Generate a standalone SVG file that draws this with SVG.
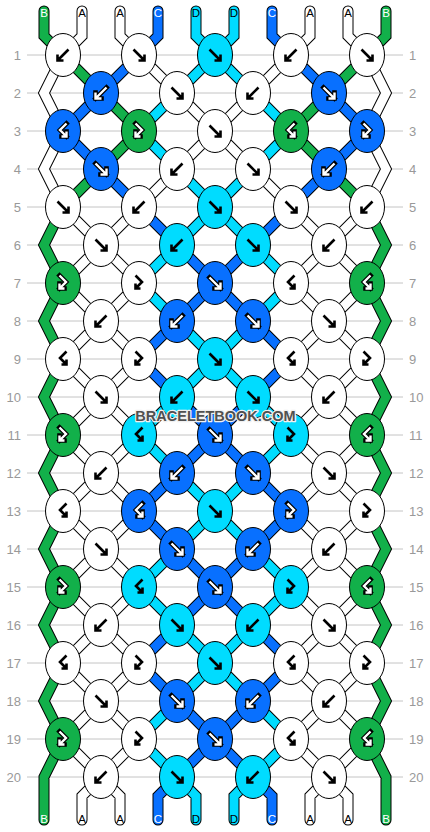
<svg xmlns="http://www.w3.org/2000/svg" xmlns:xlink="http://www.w3.org/1999/xlink" width="430" height="832" viewBox="0 0 430 832">
<style>
.grid line{stroke:#c4c4c4;stroke-width:1}
.rn{font-family:"Liberation Sans",Arial,sans-serif;font-size:13px;fill:#999}
.rl{text-anchor:end}
.o{fill:none;stroke:#000;stroke-width:11;stroke-linecap:round;stroke-linejoin:miter}
.s{fill:none;stroke-width:9;stroke-linecap:round;stroke-linejoin:miter}
.sg{stroke:#12b04a}.sb{stroke:#0870ff}.sd{stroke:#00dcff}.sw{stroke:#fff}
ellipse{stroke:#000;stroke-width:1}
.w{fill:#fff}.g{fill:#12b04a}.c{fill:#0870ff}.d{fill:#00dcff}
.ab{stroke:#000;stroke-width:2.6}
.ao{stroke:#000;stroke-width:4.6;stroke-linecap:square}
.aw{stroke:#fff;stroke-width:2.4}
.lt{font-family:"Liberation Sans",Arial,sans-serif;font-size:11.5px;text-anchor:middle}
.lw{fill:#fff}.lk{fill:#000}
.wm{font-family:"Liberation Sans",Arial,sans-serif;font-weight:bold;font-size:14.5px;text-anchor:middle;fill:#505050;stroke:#f0f0f0;stroke-width:2.5;paint-order:stroke;stroke-linejoin:round}
</style>
<defs>
<path id="F" fill="none" d="M-5.5,-5.5 L5.5,5.5 M5.5,-0.5 L5.5,5.5 L-0.5,5.5"/>
<path id="B" fill="none" d="M5.5,-5.5 L-5.5,5.5 M-5.5,-0.5 L-5.5,5.5 L0.5,5.5"/>
<path id="FB" fill="none" d="M-3.5,-7.5 L3,-1 L-3.5,5.5 M-3.5,0.5 L-3.5,5.5 L1.5,5.5"/>
<path id="BF" fill="none" d="M3.5,-7.5 L-3,-1 L3.5,5.5 M3.5,0.5 L3.5,5.5 L-1.5,5.5"/>
<path id="pg" d="M44,11 L44,36 L63,55 M63,207 L44,245 L63,283 L44,321 L63,359 L44,397 L63,435 L44,473 L63,511 L44,549 L63,587 L44,625 L63,663 L44,701 L63,739 L44,777 L44,820 M386,11 L386,36 L367,55 M367,207 L386,245 L367,283 L386,321 L367,359 L386,397 L367,435 L386,473 L367,511 L386,549 L367,587 L386,625 L367,663 L386,701 L367,739 L386,777 L386,820 M63,55 L101,93 M101,169 L63,207 M101,93 L139,131 L101,169 M329,93 L291,131 L329,169 M367,55 L329,93 M329,169 L367,207"/>
<path id="pb" d="M101,93 L63,131 L101,169 M139,55 L101,93 M101,169 L139,207 M291,55 L329,93 M329,169 L291,207 M329,93 L367,131 L329,169 M158,11 L158,36 L139,55 M139,207 L177,245 M177,321 L139,359 L177,397 M177,473 L139,511 L177,549 M177,625 L139,663 L177,701 M177,777 L158,796 L158,820 M272,11 L272,36 L291,55 M291,207 L253,245 M253,321 L291,359 L253,397 M253,473 L291,511 L253,549 M253,625 L291,663 L253,701 M253,777 L272,796 L272,820 M177,245 L215,283 L177,321 M177,397 L215,435 L177,473 M177,549 L215,587 L177,625 M177,701 L215,739 L177,777 M253,245 L215,283 L253,321 M253,397 L215,435 L253,473 M253,549 L215,587 L253,625 M253,701 L215,739 L253,777"/>
<path id="pd" d="M177,93 L139,131 L177,169 M177,245 L139,283 L177,321 M177,397 L139,435 L177,473 M177,549 L139,587 L177,625 M177,701 L139,739 L177,777 M253,93 L291,131 L253,169 M253,245 L291,283 L253,321 M253,397 L291,435 L253,473 M253,549 L291,587 L253,625 M253,701 L291,739 L253,777 M196,11 L196,36 L215,55 L177,93 M177,169 L215,207 L177,245 M177,321 L215,359 L177,397 M177,473 L215,511 L177,549 M177,625 L215,663 L177,701 M177,777 L196,796 L196,820 M234,11 L234,36 L215,55 L253,93 M253,169 L215,207 L253,245 M253,321 L215,359 L253,397 M253,473 L215,511 L253,549 M253,625 L215,663 L253,701 M253,777 L234,796 L234,820"/>
<path id="pw" d="M63,55 L44,93 L63,131 L44,169 L63,207 M367,55 L386,93 L367,131 L386,169 L367,207 M82,11 L82,36 L63,55 M63,207 L101,245 L63,283 L101,321 L63,359 L101,397 L63,435 L101,473 L63,511 L101,549 L63,587 L101,625 L63,663 L101,701 L63,739 L101,777 L82,796 L82,820 M120,11 L120,36 L139,55 M139,207 L101,245 L139,283 L101,321 L139,359 L101,397 L139,435 L101,473 L139,511 L101,549 L139,587 L101,625 L139,663 L101,701 L139,739 L101,777 L120,796 L120,820 M310,11 L310,36 L291,55 M291,207 L329,245 L291,283 L329,321 L291,359 L329,397 L291,435 L329,473 L291,511 L329,549 L291,587 L329,625 L291,663 L329,701 L291,739 L329,777 L310,796 L310,820 M348,11 L348,36 L367,55 M367,207 L329,245 L367,283 L329,321 L367,359 L329,397 L367,435 L329,473 L367,511 L329,549 L367,587 L329,625 L367,663 L329,701 L367,739 L329,777 L348,796 L348,820 M139,55 L177,93 M177,169 L139,207 M291,55 L253,93 M253,169 L291,207 M177,93 L215,131 L177,169 M253,93 L215,131 L253,169"/>
</defs>
<rect width="430" height="832" fill="#fff"/>
<g class="grid">
<line x1="27" y1="55" x2="403" y2="55"/><line x1="27" y1="93" x2="403" y2="93"/><line x1="27" y1="131" x2="403" y2="131"/><line x1="27" y1="169" x2="403" y2="169"/><line x1="27" y1="207" x2="403" y2="207"/><line x1="27" y1="245" x2="403" y2="245"/><line x1="27" y1="283" x2="403" y2="283"/><line x1="27" y1="321" x2="403" y2="321"/><line x1="27" y1="359" x2="403" y2="359"/><line x1="27" y1="397" x2="403" y2="397"/><line x1="27" y1="435" x2="403" y2="435"/><line x1="27" y1="473" x2="403" y2="473"/><line x1="27" y1="511" x2="403" y2="511"/><line x1="27" y1="549" x2="403" y2="549"/><line x1="27" y1="587" x2="403" y2="587"/><line x1="27" y1="625" x2="403" y2="625"/><line x1="27" y1="663" x2="403" y2="663"/><line x1="27" y1="701" x2="403" y2="701"/><line x1="27" y1="739" x2="403" y2="739"/><line x1="27" y1="777" x2="403" y2="777"/>
</g>
<g class="rn">
<text class="rl" x="21" y="59.5">1</text><text class="rl" x="21" y="97.5">2</text><text class="rl" x="21" y="135.5">3</text><text class="rl" x="21" y="173.5">4</text><text class="rl" x="21" y="211.5">5</text><text class="rl" x="21" y="249.5">6</text><text class="rl" x="21" y="287.5">7</text><text class="rl" x="21" y="325.5">8</text><text class="rl" x="21" y="363.5">9</text><text class="rl" x="21" y="401.5">10</text><text class="rl" x="21" y="439.5">11</text><text class="rl" x="21" y="477.5">12</text><text class="rl" x="21" y="515.5">13</text><text class="rl" x="21" y="553.5">14</text><text class="rl" x="21" y="591.5">15</text><text class="rl" x="21" y="629.5">16</text><text class="rl" x="21" y="667.5">17</text><text class="rl" x="21" y="705.5">18</text><text class="rl" x="21" y="743.5">19</text><text class="rl" x="21" y="781.5">20</text>
<text x="409" y="59.5">1</text><text x="409" y="97.5">2</text><text x="409" y="135.5">3</text><text x="409" y="173.5">4</text><text x="409" y="211.5">5</text><text x="409" y="249.5">6</text><text x="409" y="287.5">7</text><text x="409" y="325.5">8</text><text x="409" y="363.5">9</text><text x="409" y="401.5">10</text><text x="409" y="439.5">11</text><text x="409" y="477.5">12</text><text x="409" y="515.5">13</text><text x="409" y="553.5">14</text><text x="409" y="591.5">15</text><text x="409" y="629.5">16</text><text x="409" y="667.5">17</text><text x="409" y="705.5">18</text><text x="409" y="743.5">19</text><text x="409" y="781.5">20</text>
</g>
<g id="connectors">
<use href="#pg" class="o"/><use href="#pb" class="o"/><use href="#pd" class="o"/><use href="#pw" class="o"/>
<use href="#pg" class="s sg"/><use href="#pb" class="s sb"/><use href="#pd" class="s sd"/><use href="#pw" class="s sw"/>
</g>
<g id="labels" class="lt">
<text class="lw" x="44" y="17">B</text><text class="lk" x="82" y="17">A</text><text class="lk" x="120" y="17">A</text><text class="lw" x="158" y="17">C</text><text class="lk" x="196" y="17">D</text><text class="lk" x="234" y="17">D</text><text class="lw" x="272" y="17">C</text><text class="lk" x="310" y="17">A</text><text class="lk" x="348" y="17">A</text><text class="lw" x="386" y="17">B</text>
<text class="lw" x="44" y="823">B</text><text class="lk" x="82" y="823">A</text><text class="lk" x="120" y="823">A</text><text class="lw" x="158" y="823">C</text><text class="lk" x="196" y="823">D</text><text class="lk" x="234" y="823">D</text><text class="lw" x="272" y="823">C</text><text class="lk" x="310" y="823">A</text><text class="lk" x="348" y="823">A</text><text class="lw" x="386" y="823">B</text>
</g>
<g id="knots">
<g id="k1-1"><ellipse cx="63" cy="55" rx="17.5" ry="21.5" class="w"/><use href="#B" x="63" y="55" class="ab"/></g>
<g id="k1-2"><ellipse cx="139" cy="55" rx="17.5" ry="21.5" class="w"/><use href="#F" x="139" y="55" class="ab"/></g>
<g id="k1-3"><ellipse cx="215" cy="55" rx="17.5" ry="21.5" class="d"/><use href="#F" x="215" y="55" class="ab"/></g>
<g id="k1-4"><ellipse cx="291" cy="55" rx="17.5" ry="21.5" class="w"/><use href="#B" x="291" y="55" class="ab"/></g>
<g id="k1-5"><ellipse cx="367" cy="55" rx="17.5" ry="21.5" class="w"/><use href="#F" x="367" y="55" class="ab"/></g>
<g id="k2-1"><ellipse cx="101" cy="93" rx="17.5" ry="21.5" class="c"/><use href="#B" x="101" y="93" class="ao"/><use href="#B" x="101" y="93" class="aw"/></g>
<g id="k2-2"><ellipse cx="177" cy="93" rx="17.5" ry="21.5" class="w"/><use href="#F" x="177" y="93" class="ab"/></g>
<g id="k2-3"><ellipse cx="253" cy="93" rx="17.5" ry="21.5" class="w"/><use href="#B" x="253" y="93" class="ab"/></g>
<g id="k2-4"><ellipse cx="329" cy="93" rx="17.5" ry="21.5" class="c"/><use href="#F" x="329" y="93" class="ao"/><use href="#F" x="329" y="93" class="aw"/></g>
<g id="k3-1"><ellipse cx="63" cy="131" rx="17.5" ry="21.5" class="c"/><use href="#BF" x="63" y="131" class="ao"/><use href="#BF" x="63" y="131" class="aw"/></g>
<g id="k3-2"><ellipse cx="139" cy="131" rx="17.5" ry="21.5" class="g"/><use href="#FB" x="139" y="131" class="ao"/><use href="#FB" x="139" y="131" class="aw"/></g>
<g id="k3-3"><ellipse cx="215" cy="131" rx="17.5" ry="21.5" class="w"/><use href="#F" x="215" y="131" class="ab"/></g>
<g id="k3-4"><ellipse cx="291" cy="131" rx="17.5" ry="21.5" class="g"/><use href="#BF" x="291" y="131" class="ao"/><use href="#BF" x="291" y="131" class="aw"/></g>
<g id="k3-5"><ellipse cx="367" cy="131" rx="17.5" ry="21.5" class="c"/><use href="#FB" x="367" y="131" class="ao"/><use href="#FB" x="367" y="131" class="aw"/></g>
<g id="k4-1"><ellipse cx="101" cy="169" rx="17.5" ry="21.5" class="c"/><use href="#F" x="101" y="169" class="ao"/><use href="#F" x="101" y="169" class="aw"/></g>
<g id="k4-2"><ellipse cx="177" cy="169" rx="17.5" ry="21.5" class="w"/><use href="#B" x="177" y="169" class="ab"/></g>
<g id="k4-3"><ellipse cx="253" cy="169" rx="17.5" ry="21.5" class="w"/><use href="#F" x="253" y="169" class="ab"/></g>
<g id="k4-4"><ellipse cx="329" cy="169" rx="17.5" ry="21.5" class="c"/><use href="#B" x="329" y="169" class="ao"/><use href="#B" x="329" y="169" class="aw"/></g>
<g id="k5-1"><ellipse cx="63" cy="207" rx="17.5" ry="21.5" class="w"/><use href="#F" x="63" y="207" class="ab"/></g>
<g id="k5-2"><ellipse cx="139" cy="207" rx="17.5" ry="21.5" class="w"/><use href="#B" x="139" y="207" class="ab"/></g>
<g id="k5-3"><ellipse cx="215" cy="207" rx="17.5" ry="21.5" class="d"/><use href="#F" x="215" y="207" class="ab"/></g>
<g id="k5-4"><ellipse cx="291" cy="207" rx="17.5" ry="21.5" class="w"/><use href="#F" x="291" y="207" class="ab"/></g>
<g id="k5-5"><ellipse cx="367" cy="207" rx="17.5" ry="21.5" class="w"/><use href="#B" x="367" y="207" class="ab"/></g>
<g id="k6-1"><ellipse cx="101" cy="245" rx="17.5" ry="21.5" class="w"/><use href="#F" x="101" y="245" class="ab"/></g>
<g id="k6-2"><ellipse cx="177" cy="245" rx="17.5" ry="21.5" class="d"/><use href="#B" x="177" y="245" class="ab"/></g>
<g id="k6-3"><ellipse cx="253" cy="245" rx="17.5" ry="21.5" class="d"/><use href="#F" x="253" y="245" class="ab"/></g>
<g id="k6-4"><ellipse cx="329" cy="245" rx="17.5" ry="21.5" class="w"/><use href="#B" x="329" y="245" class="ab"/></g>
<g id="k7-1"><ellipse cx="63" cy="283" rx="17.5" ry="21.5" class="g"/><use href="#FB" x="63" y="283" class="ao"/><use href="#FB" x="63" y="283" class="aw"/></g>
<g id="k7-2"><ellipse cx="139" cy="283" rx="17.5" ry="21.5" class="w"/><use href="#FB" x="139" y="283" class="ab"/></g>
<g id="k7-3"><ellipse cx="215" cy="283" rx="17.5" ry="21.5" class="c"/><use href="#F" x="215" y="283" class="ao"/><use href="#F" x="215" y="283" class="aw"/></g>
<g id="k7-4"><ellipse cx="291" cy="283" rx="17.5" ry="21.5" class="w"/><use href="#BF" x="291" y="283" class="ab"/></g>
<g id="k7-5"><ellipse cx="367" cy="283" rx="17.5" ry="21.5" class="g"/><use href="#BF" x="367" y="283" class="ao"/><use href="#BF" x="367" y="283" class="aw"/></g>
<g id="k8-1"><ellipse cx="101" cy="321" rx="17.5" ry="21.5" class="w"/><use href="#B" x="101" y="321" class="ab"/></g>
<g id="k8-2"><ellipse cx="177" cy="321" rx="17.5" ry="21.5" class="c"/><use href="#B" x="177" y="321" class="ao"/><use href="#B" x="177" y="321" class="aw"/></g>
<g id="k8-3"><ellipse cx="253" cy="321" rx="17.5" ry="21.5" class="c"/><use href="#F" x="253" y="321" class="ao"/><use href="#F" x="253" y="321" class="aw"/></g>
<g id="k8-4"><ellipse cx="329" cy="321" rx="17.5" ry="21.5" class="w"/><use href="#F" x="329" y="321" class="ab"/></g>
<g id="k9-1"><ellipse cx="63" cy="359" rx="17.5" ry="21.5" class="w"/><use href="#BF" x="63" y="359" class="ab"/></g>
<g id="k9-2"><ellipse cx="139" cy="359" rx="17.5" ry="21.5" class="w"/><use href="#FB" x="139" y="359" class="ab"/></g>
<g id="k9-3"><ellipse cx="215" cy="359" rx="17.5" ry="21.5" class="d"/><use href="#F" x="215" y="359" class="ab"/></g>
<g id="k9-4"><ellipse cx="291" cy="359" rx="17.5" ry="21.5" class="w"/><use href="#BF" x="291" y="359" class="ab"/></g>
<g id="k9-5"><ellipse cx="367" cy="359" rx="17.5" ry="21.5" class="w"/><use href="#FB" x="367" y="359" class="ab"/></g>
<g id="k10-1"><ellipse cx="101" cy="397" rx="17.5" ry="21.5" class="w"/><use href="#F" x="101" y="397" class="ab"/></g>
<g id="k10-2"><ellipse cx="177" cy="397" rx="17.5" ry="21.5" class="d"/><use href="#B" x="177" y="397" class="ab"/></g>
<g id="k10-3"><ellipse cx="253" cy="397" rx="17.5" ry="21.5" class="d"/><use href="#F" x="253" y="397" class="ab"/></g>
<g id="k10-4"><ellipse cx="329" cy="397" rx="17.5" ry="21.5" class="w"/><use href="#B" x="329" y="397" class="ab"/></g>
<g id="k11-1"><ellipse cx="63" cy="435" rx="17.5" ry="21.5" class="g"/><use href="#FB" x="63" y="435" class="ao"/><use href="#FB" x="63" y="435" class="aw"/></g>
<g id="k11-2"><ellipse cx="139" cy="435" rx="17.5" ry="21.5" class="d"/><use href="#BF" x="139" y="435" class="ab"/></g>
<g id="k11-3"><ellipse cx="215" cy="435" rx="17.5" ry="21.5" class="c"/><use href="#F" x="215" y="435" class="ao"/><use href="#F" x="215" y="435" class="aw"/></g>
<g id="k11-4"><ellipse cx="291" cy="435" rx="17.5" ry="21.5" class="d"/><use href="#FB" x="291" y="435" class="ab"/></g>
<g id="k11-5"><ellipse cx="367" cy="435" rx="17.5" ry="21.5" class="g"/><use href="#BF" x="367" y="435" class="ao"/><use href="#BF" x="367" y="435" class="aw"/></g>
<g id="k12-1"><ellipse cx="101" cy="473" rx="17.5" ry="21.5" class="w"/><use href="#B" x="101" y="473" class="ab"/></g>
<g id="k12-2"><ellipse cx="177" cy="473" rx="17.5" ry="21.5" class="c"/><use href="#B" x="177" y="473" class="ao"/><use href="#B" x="177" y="473" class="aw"/></g>
<g id="k12-3"><ellipse cx="253" cy="473" rx="17.5" ry="21.5" class="c"/><use href="#F" x="253" y="473" class="ao"/><use href="#F" x="253" y="473" class="aw"/></g>
<g id="k12-4"><ellipse cx="329" cy="473" rx="17.5" ry="21.5" class="w"/><use href="#F" x="329" y="473" class="ab"/></g>
<g id="k13-1"><ellipse cx="63" cy="511" rx="17.5" ry="21.5" class="w"/><use href="#BF" x="63" y="511" class="ab"/></g>
<g id="k13-2"><ellipse cx="139" cy="511" rx="17.5" ry="21.5" class="c"/><use href="#BF" x="139" y="511" class="ao"/><use href="#BF" x="139" y="511" class="aw"/></g>
<g id="k13-3"><ellipse cx="215" cy="511" rx="17.5" ry="21.5" class="d"/><use href="#F" x="215" y="511" class="ab"/></g>
<g id="k13-4"><ellipse cx="291" cy="511" rx="17.5" ry="21.5" class="c"/><use href="#FB" x="291" y="511" class="ao"/><use href="#FB" x="291" y="511" class="aw"/></g>
<g id="k13-5"><ellipse cx="367" cy="511" rx="17.5" ry="21.5" class="w"/><use href="#FB" x="367" y="511" class="ab"/></g>
<g id="k14-1"><ellipse cx="101" cy="549" rx="17.5" ry="21.5" class="w"/><use href="#F" x="101" y="549" class="ab"/></g>
<g id="k14-2"><ellipse cx="177" cy="549" rx="17.5" ry="21.5" class="c"/><use href="#F" x="177" y="549" class="ao"/><use href="#F" x="177" y="549" class="aw"/></g>
<g id="k14-3"><ellipse cx="253" cy="549" rx="17.5" ry="21.5" class="c"/><use href="#B" x="253" y="549" class="ao"/><use href="#B" x="253" y="549" class="aw"/></g>
<g id="k14-4"><ellipse cx="329" cy="549" rx="17.5" ry="21.5" class="w"/><use href="#B" x="329" y="549" class="ab"/></g>
<g id="k15-1"><ellipse cx="63" cy="587" rx="17.5" ry="21.5" class="g"/><use href="#FB" x="63" y="587" class="ao"/><use href="#FB" x="63" y="587" class="aw"/></g>
<g id="k15-2"><ellipse cx="139" cy="587" rx="17.5" ry="21.5" class="d"/><use href="#BF" x="139" y="587" class="ab"/></g>
<g id="k15-3"><ellipse cx="215" cy="587" rx="17.5" ry="21.5" class="c"/><use href="#F" x="215" y="587" class="ao"/><use href="#F" x="215" y="587" class="aw"/></g>
<g id="k15-4"><ellipse cx="291" cy="587" rx="17.5" ry="21.5" class="d"/><use href="#FB" x="291" y="587" class="ab"/></g>
<g id="k15-5"><ellipse cx="367" cy="587" rx="17.5" ry="21.5" class="g"/><use href="#BF" x="367" y="587" class="ao"/><use href="#BF" x="367" y="587" class="aw"/></g>
<g id="k16-1"><ellipse cx="101" cy="625" rx="17.5" ry="21.5" class="w"/><use href="#B" x="101" y="625" class="ab"/></g>
<g id="k16-2"><ellipse cx="177" cy="625" rx="17.5" ry="21.5" class="d"/><use href="#F" x="177" y="625" class="ab"/></g>
<g id="k16-3"><ellipse cx="253" cy="625" rx="17.5" ry="21.5" class="d"/><use href="#B" x="253" y="625" class="ab"/></g>
<g id="k16-4"><ellipse cx="329" cy="625" rx="17.5" ry="21.5" class="w"/><use href="#F" x="329" y="625" class="ab"/></g>
<g id="k17-1"><ellipse cx="63" cy="663" rx="17.5" ry="21.5" class="w"/><use href="#BF" x="63" y="663" class="ab"/></g>
<g id="k17-2"><ellipse cx="139" cy="663" rx="17.5" ry="21.5" class="w"/><use href="#FB" x="139" y="663" class="ab"/></g>
<g id="k17-3"><ellipse cx="215" cy="663" rx="17.5" ry="21.5" class="d"/><use href="#F" x="215" y="663" class="ab"/></g>
<g id="k17-4"><ellipse cx="291" cy="663" rx="17.5" ry="21.5" class="w"/><use href="#BF" x="291" y="663" class="ab"/></g>
<g id="k17-5"><ellipse cx="367" cy="663" rx="17.5" ry="21.5" class="w"/><use href="#FB" x="367" y="663" class="ab"/></g>
<g id="k18-1"><ellipse cx="101" cy="701" rx="17.5" ry="21.5" class="w"/><use href="#F" x="101" y="701" class="ab"/></g>
<g id="k18-2"><ellipse cx="177" cy="701" rx="17.5" ry="21.5" class="c"/><use href="#F" x="177" y="701" class="ao"/><use href="#F" x="177" y="701" class="aw"/></g>
<g id="k18-3"><ellipse cx="253" cy="701" rx="17.5" ry="21.5" class="c"/><use href="#B" x="253" y="701" class="ao"/><use href="#B" x="253" y="701" class="aw"/></g>
<g id="k18-4"><ellipse cx="329" cy="701" rx="17.5" ry="21.5" class="w"/><use href="#B" x="329" y="701" class="ab"/></g>
<g id="k19-1"><ellipse cx="63" cy="739" rx="17.5" ry="21.5" class="g"/><use href="#FB" x="63" y="739" class="ao"/><use href="#FB" x="63" y="739" class="aw"/></g>
<g id="k19-2"><ellipse cx="139" cy="739" rx="17.5" ry="21.5" class="w"/><use href="#FB" x="139" y="739" class="ab"/></g>
<g id="k19-3"><ellipse cx="215" cy="739" rx="17.5" ry="21.5" class="c"/><use href="#F" x="215" y="739" class="ao"/><use href="#F" x="215" y="739" class="aw"/></g>
<g id="k19-4"><ellipse cx="291" cy="739" rx="17.5" ry="21.5" class="w"/><use href="#BF" x="291" y="739" class="ab"/></g>
<g id="k19-5"><ellipse cx="367" cy="739" rx="17.5" ry="21.5" class="g"/><use href="#BF" x="367" y="739" class="ao"/><use href="#BF" x="367" y="739" class="aw"/></g>
<g id="k20-1"><ellipse cx="101" cy="777" rx="17.5" ry="21.5" class="w"/><use href="#B" x="101" y="777" class="ab"/></g>
<g id="k20-2"><ellipse cx="177" cy="777" rx="17.5" ry="21.5" class="d"/><use href="#F" x="177" y="777" class="ab"/></g>
<g id="k20-3"><ellipse cx="253" cy="777" rx="17.5" ry="21.5" class="d"/><use href="#B" x="253" y="777" class="ab"/></g>
<g id="k20-4"><ellipse cx="329" cy="777" rx="17.5" ry="21.5" class="w"/><use href="#F" x="329" y="777" class="ab"/></g>
</g>
<text class="wm" x="215.5" y="421">BRACELETBOOK.COM</text>
</svg>
